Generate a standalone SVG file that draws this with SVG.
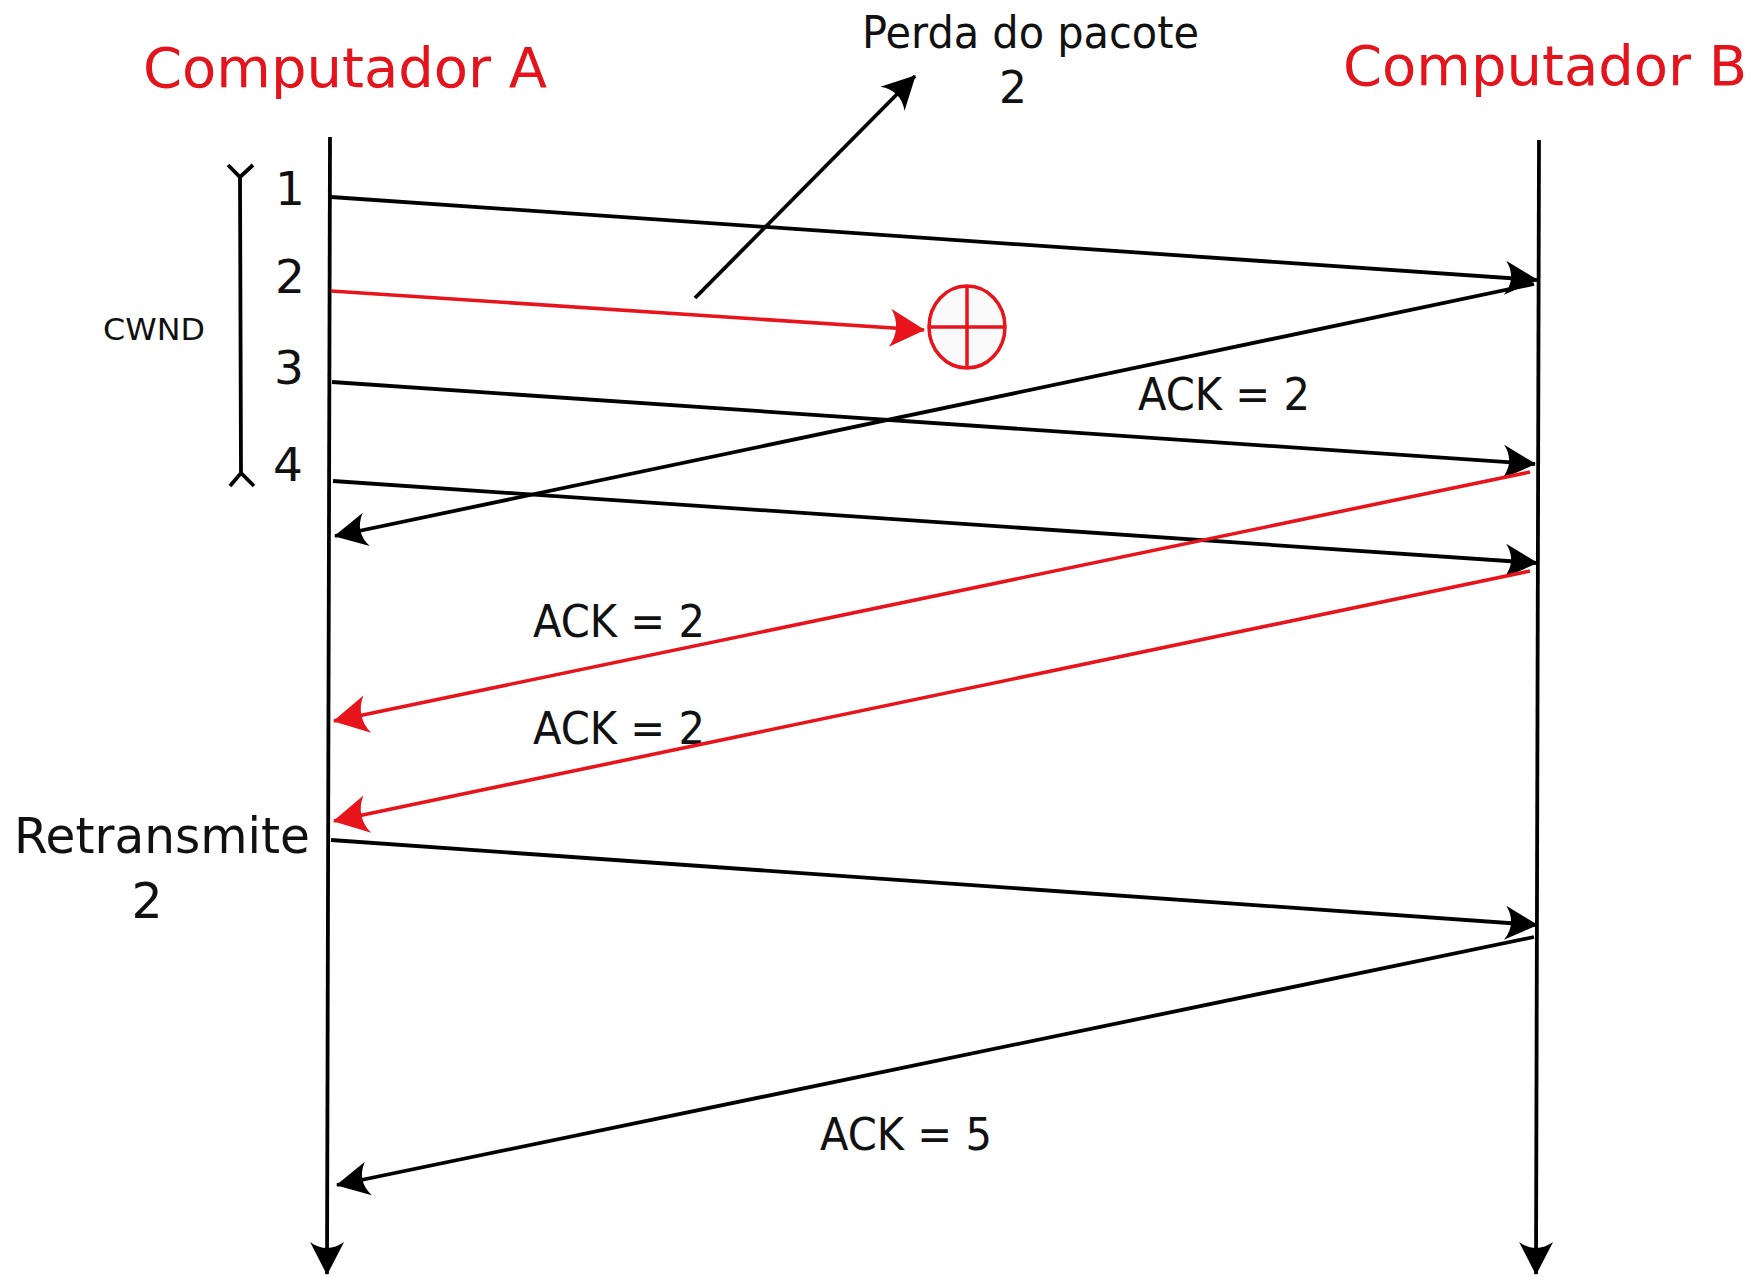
<svg xmlns="http://www.w3.org/2000/svg" width="1761" height="1277" viewBox="0 0 1761 1277">
<style>
.ln{stroke:#000;stroke-width:3.8;fill:none;stroke-linecap:butt}
.rl{stroke:#e8141c;stroke-width:3.6;fill:none}
.t{font-family:"DejaVu Sans","Liberation Sans",sans-serif;fill:#111}
.title{font-family:"DejaVu Sans","Liberation Sans",sans-serif;fill:#e3141c;font-size:56px}
.ack{font-size:44px}
.num{font-size:47px}
</style>
<defs>
<marker id="ab" markerUnits="userSpaceOnUse" viewBox="-40 -20 44 40" markerWidth="44" markerHeight="40" refX="0" refY="0" orient="auto">
<path d="M1,0 L-32,-17 C-24,-6 -24,6 -32,17 Z" fill="#000"/>
</marker>
<marker id="ar" markerUnits="userSpaceOnUse" viewBox="-40 -22 44 44" markerWidth="44" markerHeight="44" refX="0" refY="0" orient="auto">
<path d="M1,0 L-34,-19 C-26,-7 -26,7 -34,19 Z" fill="#e8141c"/>
</marker>
</defs>
<rect width="1761" height="1277" fill="#fff"/>

<g id="computador-a">
<text class="title" x="143" y="87">Computador A</text>
<path class="ln" d="M330,137 L327,1274" marker-end="url(#ab)"/>
</g>
<g id="computador-b">
<text class="title" x="1343" y="85">Computador B</text>
<path class="ln" d="M1539,140 L1536,1274" marker-end="url(#ab)"/>
</g>

<g id="cwnd">
<path class="ln" d="M240,177 L241,473 M228,165 L240,177 L253,165 M230,486 L241,473 L254,486"/>
<text class="t" x="103" y="340" font-size="31" textLength="102" lengthAdjust="spacingAndGlyphs">CWND</text>
</g>

<g id="seq-labels">
<text class="t num" x="275" y="205">1</text>
<text class="t num" x="275" y="293">2</text>
<text class="t num" x="274" y="384">3</text>
<text class="t num" x="273" y="481">4</text>
</g>

<g id="perda">
<text class="t" x="862" y="48" font-size="44" textLength="337" lengthAdjust="spacingAndGlyphs">Perda do pacote</text>
<text class="t" x="999" y="103" font-size="44">2</text>
</g>

<g id="lost-marker">
<ellipse cx="967" cy="327" rx="38" ry="41" fill="#fafafa" stroke="#e8141c" stroke-width="3.5"/>
<path d="M929,327 L1005,327 M967,286 L967,368" stroke="#e8141c" stroke-width="3.5" fill="none"/>
</g>

<g id="ack-labels">
<text class="t ack" x="1138" y="410" textLength="172" lengthAdjust="spacingAndGlyphs">ACK = 2</text>
<text class="t ack" x="533" y="637" textLength="172" lengthAdjust="spacingAndGlyphs">ACK = 2</text>
<text class="t ack" x="533" y="744" textLength="172" lengthAdjust="spacingAndGlyphs">ACK = 2</text>
<text class="t ack" x="820" y="1150" textLength="172" lengthAdjust="spacingAndGlyphs">ACK = 5</text>
</g>

<g id="retransmite">
<text class="t" x="14" y="853" font-size="49" textLength="296" lengthAdjust="spacingAndGlyphs">Retransmite</text>
<text class="t" x="147" y="918" font-size="49" text-anchor="middle">2</text>
</g>

<g id="connectors">
<path class="ln" d="M331,197 L1537,280" marker-end="url(#ab)"/>
<path class="rl" d="M331,291 L924,330" marker-end="url(#ar)"/>
<path class="ln" d="M332,382 L1535,464" marker-end="url(#ab)"/>
<path class="ln" d="M333,481 L1537,563" marker-end="url(#ab)"/>
<path class="ln" d="M331,840 L1537,925" marker-end="url(#ab)"/>
<path class="ln" d="M1534,284 L335,536" marker-end="url(#ab)"/>
<path class="rl" d="M1530,472 L334,721" marker-end="url(#ar)"/>
<path class="rl" d="M1530,571 L334,821" marker-end="url(#ar)"/>
<path class="ln" d="M1534,937 L337,1185" marker-end="url(#ab)"/>
<path class="ln" d="M695,298 L915,76" marker-end="url(#ab)"/>
</g>
</svg>
